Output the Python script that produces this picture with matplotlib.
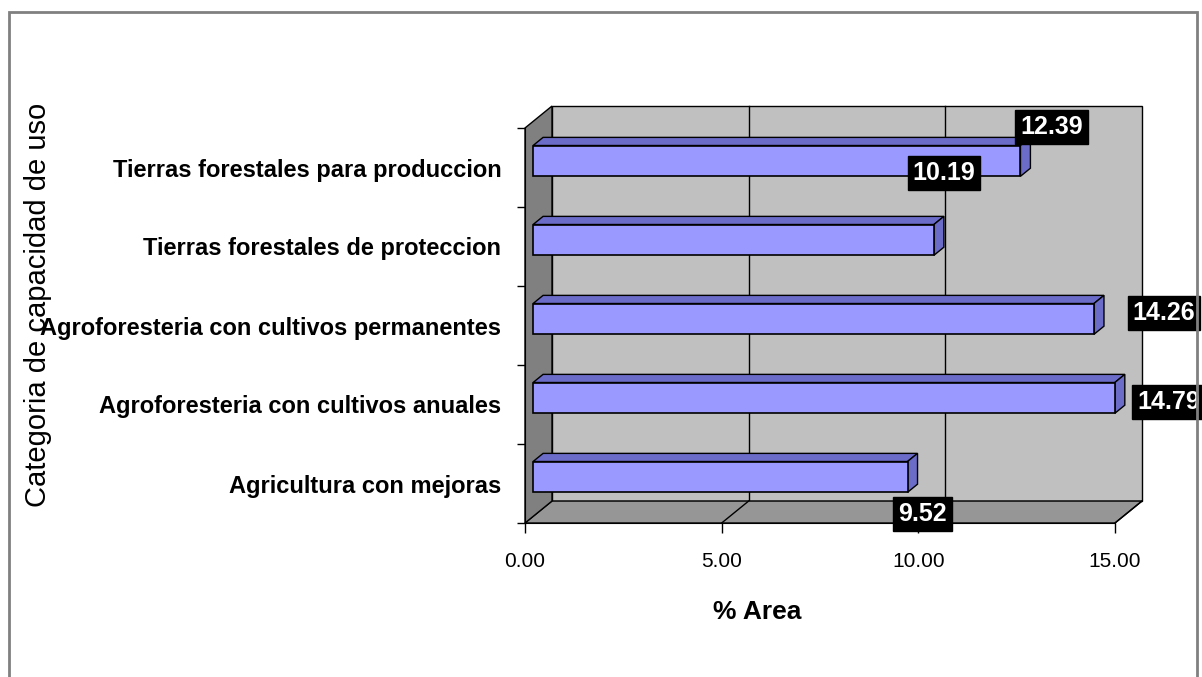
import matplotlib.pyplot as plt
from matplotlib.patches import Polygon, Rectangle
import numpy as np

plt.rcParams['font.family'] = ['Liberation Sans', 'DejaVu Sans']

categories = ["Agricultura con mejoras",
              "Agroforesteria con cultivos anuales",
              "Agroforesteria con cultivos permanentes",
              "Tierras forestales de proteccion",
              "Tierras forestales para produccion"]
values = [9.52, 14.79, 14.26, 10.19, 12.39]
xticks = [0, 5, 10, 15]

# label offsets (pixels) from each bar's front right edge, as Excel placed them
label_offsets = [(15, -37), (54, -4), (70, 6), (10, 67), (31, 34)]

W, H = 1202, 677
DX, DY = 0.686, 0.278      # depth of the 3d box in data units
FRONT, DEPTH = 0.3, 0.37   # bar position inside the box
BAR_H = 0.39

fig = plt.figure(figsize=(W / 100, H / 100), dpi=100)
fig.patches.append(Rectangle((9 / W, -0.01), 1188 / W, (H - 12) / H + 0.01,
                             transform=fig.transFigure, fill=False,
                             edgecolor="#808080", linewidth=2, zorder=10))

ax = fig.add_axes([525 / W, 154 / H, 590 / W, 395 / H])
ax.set_xlim(0, 15)
ax.set_ylim(0, 5)
ax.patch.set_visible(False)
for s in ["top", "right"]:
    ax.spines[s].set_visible(False)
ax.spines["left"].set_zorder(5)
ax.spines["bottom"].set_zorder(5)

n = len(categories)
# back wall
ax.add_patch(Polygon([(DX, DY), (15 + DX, DY), (15 + DX, n + DY), (DX, n + DY)],
                     closed=True, facecolor="#c0c0c0", edgecolor="black",
                     linewidth=1, clip_on=False, zorder=1))
for xv in xticks[1:-1]:
    ax.plot([xv + DX, xv + DX], [DY, n + DY], color="black", lw=1,
            clip_on=False, zorder=1.5)
# floor
ax.add_patch(Polygon([(0, 0), (15, 0), (15 + DX, DY), (DX, DY)], closed=True,
                     facecolor="#969696", edgecolor="black", linewidth=1,
                     clip_on=False, zorder=2))
for xv in xticks[1:]:
    ax.plot([xv, xv + DX], [0, DY], color="black", lw=1, clip_on=False, zorder=2.5)
# left wall
ax.add_patch(Polygon([(0, 0), (DX, DY), (DX, n + DY), (0, n)], closed=True,
                     facecolor="#808080", edgecolor="black", linewidth=1,
                     clip_on=False, zorder=2))

# bars
for i, v in enumerate(values):
    x0 = FRONT * DX
    y0 = i + 0.5 - BAR_H / 2 + FRONT * DY
    ddx, ddy = DEPTH * DX, DEPTH * DY
    top = [(x0, y0 + BAR_H), (x0 + v, y0 + BAR_H),
           (x0 + v + ddx, y0 + BAR_H + ddy), (x0 + ddx, y0 + BAR_H + ddy)]
    side = [(x0 + v, y0), (x0 + v + ddx, y0 + ddy),
            (x0 + v + ddx, y0 + BAR_H + ddy), (x0 + v, y0 + BAR_H)]
    ax.add_patch(Polygon(top, closed=True, facecolor="#6b6bc8", edgecolor="black",
                         linewidth=1, clip_on=False, zorder=3))
    ax.add_patch(Polygon(side, closed=True, facecolor="#6b6bc8", edgecolor="black",
                         linewidth=1, clip_on=False, zorder=3))
    ax.add_patch(Rectangle((x0, y0), v, BAR_H, facecolor="#9999ff",
                           edgecolor="black", linewidth=1.2, clip_on=False, zorder=3))

# data labels
for i, v in enumerate(values):
    ax.annotate(f"{v:.2f}", xy=(FRONT * DX + v, i + 0.5 + FRONT * DY),
                xytext=label_offsets[i], textcoords="offset pixels",
                ha="center", va="center", color="white", fontsize=18,
                fontweight="bold", annotation_clip=False, zorder=6,
                bbox=dict(boxstyle="square,pad=0.2", facecolor="black",
                          edgecolor="black"))

ax.set_xticks(xticks)
ax.set_xticklabels([f"{t:.2f}" for t in xticks], fontsize=15)
ax.tick_params(axis="x", direction="out", length=7, width=1, pad=14)
ax.set_yticks(np.arange(n + 1))
ax.set_yticklabels([])
ax.tick_params(axis="y", which="major", direction="out", length=6, width=1)
ax.set_yticks(np.arange(n) + 0.5, minor=True)
ax.set_yticklabels(categories, minor=True, fontsize=17, fontweight="bold")
ax.tick_params(axis="y", which="minor", length=0, pad=17)

ax.set_xlabel("% Area", fontsize=19, fontweight="bold")
ax.xaxis.label.set_va("center")
ax.xaxis.set_label_coords(0.393, -0.225)
fig.text(38 / W, 1 - 305 / H, "Categoria de capacidad de uso", rotation=90,
         ha="center", va="center", fontsize=21)

fig.savefig("out.png", dpi=100)
